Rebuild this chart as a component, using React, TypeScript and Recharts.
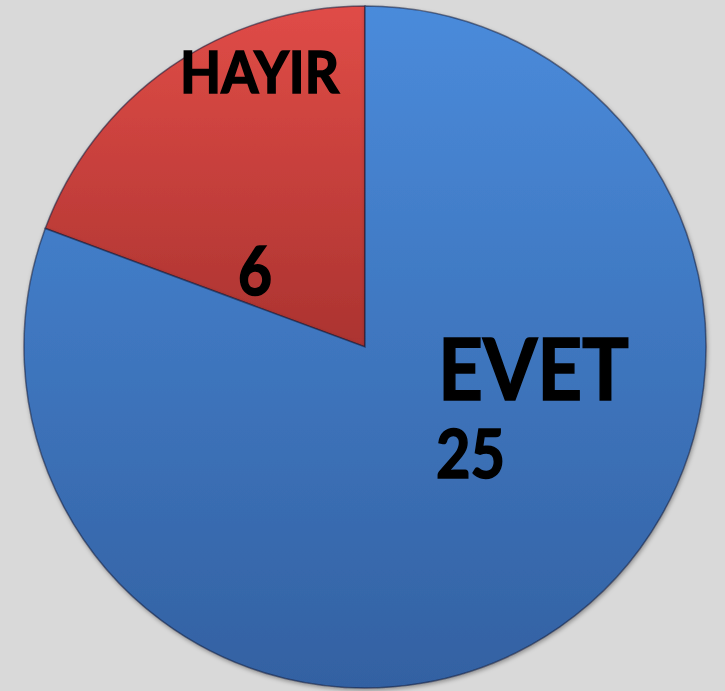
import { Cell, Pie, PieChart } from 'recharts';

const LABELS = ['HAYIR', 'EVET'];
const VALUES = [6, 25];

const COLORS = ['url(#redFill)', 'url(#blueFill)'];

// label boxes relative to the pie centre: [dx, dy (baseline), width, font size]
const LABEL_LAYOUT = [
  { name: [-185, 93 - 347, 159, 58], value: [-127, 295 - 347, 34, 66] },
  { name: [73, 400 - 347, 191, 86], value: [71, 478 - 347, 69, 67] },
];

const data = LABELS.map((label, i) => ({ name: label, value: VALUES[i] }));

// eslint-disable-next-line @typescript-eslint/no-explicit-any
function SliceLabel(props: any) {
  const { cx, cy, index, name, value } = props;
  const layout = LABEL_LAYOUT[index];
  const [ndx, ndy, nw, nfs] = layout.name;
  const [vdx, vdy, vw, vfs] = layout.value;
  const textStyle = { fontFamily: 'Lato, "Open Sans", sans-serif', fontWeight: 700 };
  return (
    <g>
      <text
        x={cx + ndx}
        y={cy + ndy}
        fill="#000"
        stroke="#000"
        strokeWidth={1.6}
        fontSize={nfs}
        textLength={nw}
        lengthAdjust="spacingAndGlyphs"
        style={textStyle}
      >
        {name}
      </text>
      <text
        x={cx + vdx}
        y={cy + vdy}
        fill="#000"
        stroke="#000"
        strokeWidth={1.6}
        fontSize={vfs}
        textLength={vw}
        lengthAdjust="spacingAndGlyphs"
        style={textStyle}
      >
        {value}
      </text>
    </g>
  );
}

export default function App() {
  return (
    <div style={{ width: 725, height: 691, background: '#d9d9d9', overflow: 'hidden' }}>
      <style>{'body{margin:0}'}</style>
      <PieChart width={725} height={691} margin={{ top: 0, right: 0, bottom: 0, left: 0 }}>
        <defs>
          <linearGradient id="blueFill" x1="0" y1="5" x2="0" y2="688" gradientUnits="userSpaceOnUse">
            <stop offset="0%" stopColor="#4a8bdb" />
            <stop offset="100%" stopColor="#3361a2" />
          </linearGradient>
          <linearGradient id="redFill" x1="0" y1="5" x2="0" y2="350" gradientUnits="userSpaceOnUse">
            <stop offset="0%" stopColor="#e04c47" />
            <stop offset="100%" stopColor="#ab3330" />
          </linearGradient>
          <filter id="pieShadow" x="-5%" y="-5%" width="110%" height="110%">
            <feDropShadow dx="1" dy="2" stdDeviation="2" floodColor="#000" floodOpacity="0.35" />
          </filter>
        </defs>
        <Pie
          data={data}
          dataKey="value"
          nameKey="name"
          cx={365}
          cy={347}
          outerRadius={341}
          startAngle={90}
          endAngle={450}
          stroke="rgba(20,30,60,0.55)"
          strokeWidth={1.5}
          label={SliceLabel}
          labelLine={false}
          isAnimationActive={false}
          style={{ filter: 'url(#pieShadow)' }}
        >
          {data.map((_, index) => (
            <Cell key={index} fill={COLORS[index]} />
          ))}
        </Pie>
      </PieChart>
    </div>
  );
}
